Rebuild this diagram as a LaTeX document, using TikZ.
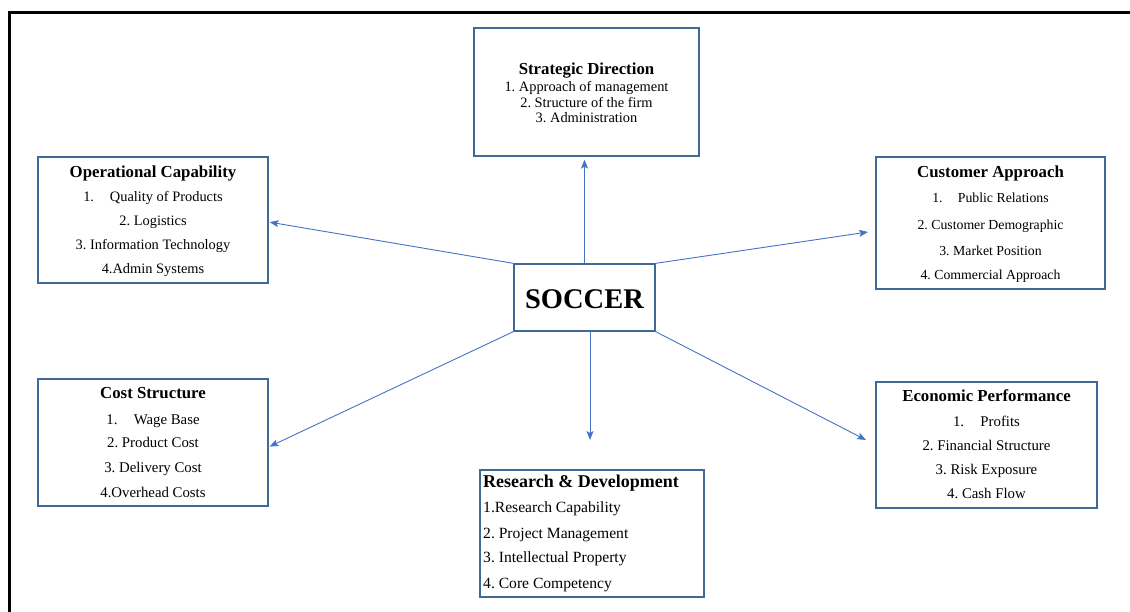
\documentclass[tikz,border=0pt]{standalone}
\usepackage{fontspec}
\setmainfont{Liberation Serif}
\usetikzlibrary{arrows.meta}
\definecolor{boxc}{RGB}{65,105,150}
\definecolor{arrc}{RGB}{68,114,196}
\frenchspacing
\begin{document}
\begin{tikzpicture}[x=1pt,y=-1pt,
 box/.style={draw=boxc,line width=1.3pt,fill=white,inner sep=0pt},
 ttl/.style={anchor=base,inner sep=0pt,font=\fontsize{16.8}{18}\selectfont\bfseries},
 itm/.style={anchor=base,inner sep=0pt},
 arr/.style={draw=arrc,line width=0.9pt,-{Stealth[length=9pt,width=7pt,inset=2pt]}}]
\useasboundingbox (0,0) rectangle (1130,612);
\draw[line width=3pt] (9,612) -- (9,13) -- (1130,13);

% boxes
\node[box,minimum width=225pt,minimum height=128pt] (sd) at (586.5,92) {};
\node[box,minimum width=230pt,minimum height=126pt] (oc) at (153,220) {};
\node[box,minimum width=229pt,minimum height=132pt] (ca) at (990.5,223) {};
\node[box,minimum width=230pt,minimum height=127pt] (cs) at (153,442.5) {};
\node[box,minimum width=221pt,minimum height=126pt] (ep) at (986.5,445) {};
\node[box,minimum width=224pt,minimum height=127pt] (rd) at (592,533.5) {};
\node[box,minimum width=141pt,minimum height=67pt] (so) at (584.5,297.5) {};
\node[anchor=base,inner sep=0pt,font=\fontsize{28.5}{30}\selectfont\bfseries] (sot) at (584.5,308.5) {SOCCER};

% Strategic Direction
\begin{scope}[every node/.append style={font=\fontsize{14.4}{16}\selectfont}]
\node[ttl] (sd0) at (586.5,74.5) {Strategic Direction};
\node[itm] (sd1) at (586.5,92) {1. Approach of management};
\node[itm] (sd2) at (586.5,107.5) {2. Structure of the firm};
\node[itm] (sd3) at (586.5,123) {3. Administration};
\end{scope}

% Operational Capability
\begin{scope}[every node/.append style={font=\fontsize{14.4}{16}\selectfont}]
\node[ttl] (oc0) at (153,177.5) {Operational Capability};
\node[itm] (oc1) at (153,201.5) {1.\hspace{1.1em}Quality of Products};
\node[itm] (oc2) at (153,225.5) {2. Logistics};
\node[itm] (oc3) at (153,249.5) {3. Information Technology};
\node[itm] (oc4) at (153,273.5) {4.Admin Systems};
\end{scope}

% Customer Approach
\begin{scope}[every node/.append style={font=\fontsize{13.8}{16}\selectfont}]
\node[ttl] (ca0) at (990.5,177.5) {Customer Approach};
\node[itm] (ca1) at (990.5,202.5) {1.\hspace{1.1em}Public Relations};
\node[itm] (ca2) at (990.5,229.5) {2. Customer Demographic};
\node[itm] (ca3) at (990.5,255.5) {3. Market Position};
\node[itm] (ca4) at (990.5,279.5) {4. Commercial Approach};
\end{scope}

% Cost Structure
\begin{scope}[every node/.append style={font=\fontsize{14.8}{16}\selectfont}]
\node[ttl] (cs0) at (153,398.5) {Cost Structure};
\node[itm] (cs1) at (153,424) {1.\hspace{1.1em}Wage Base};
\node[itm] (cs2) at (153,447.5) {2. Product Cost};
\node[itm] (cs3) at (153,472.5) {3. Delivery Cost};
\node[itm] (cs4) at (153,497) {4.Overhead Costs};
\end{scope}

% Economic Performance
\begin{scope}[every node/.append style={font=\fontsize{14.8}{16}\selectfont}]
\node[ttl] (ep0) at (986.5,401.5) {Economic Performance};
\node[itm] (ep1) at (986.5,426.5) {1.\hspace{1.1em}Profits};
\node[itm] (ep2) at (986.5,450.5) {2. Financial Structure};
\node[itm] (ep3) at (986.5,474.5) {3. Risk Exposure};
\node[itm] (ep4) at (986.5,498.5) {4. Cash Flow};
\end{scope}

% Research & Development
\begin{scope}[every node/.append style={font=\fontsize{15.6}{17}\selectfont}]
\node[ttl,anchor=base west,font=\fontsize{18}{20}\selectfont\bfseries] (rd0) at (483,487) {Research \& Development};
\node[itm,anchor=base west] (rd1) at (483,512) {1.Research Capability};
\node[itm,anchor=base west] (rd2) at (483,538) {2. Project Management};
\node[itm,anchor=base west] (rd3) at (483,562) {3. Intellectual Property};
\node[itm,anchor=base west] (rd4) at (483,588) {4. Core Competency};
\end{scope}

% connector end points
\coordinate (caend) at (868,232);
\coordinate (epend) at (866,440);
\coordinate (rdend) at (590,440);

% connectors
\draw[arr,shorten >=3pt] (so.north) -- (so.north |- sd.south);
\draw[arr,shorten >=1pt] (so.north west) -- ([yshift=-2pt]oc.east);
\draw[arr] (so.north east) -- (caend);
\draw[arr,shorten >=1pt] (so.south west) -- ([yshift=-4.5pt]cs.east);
\draw[arr] (so.south -| rdend) -- (rdend);
\draw[arr] (so.south east) -- (epend);
\end{tikzpicture}
\end{document}
